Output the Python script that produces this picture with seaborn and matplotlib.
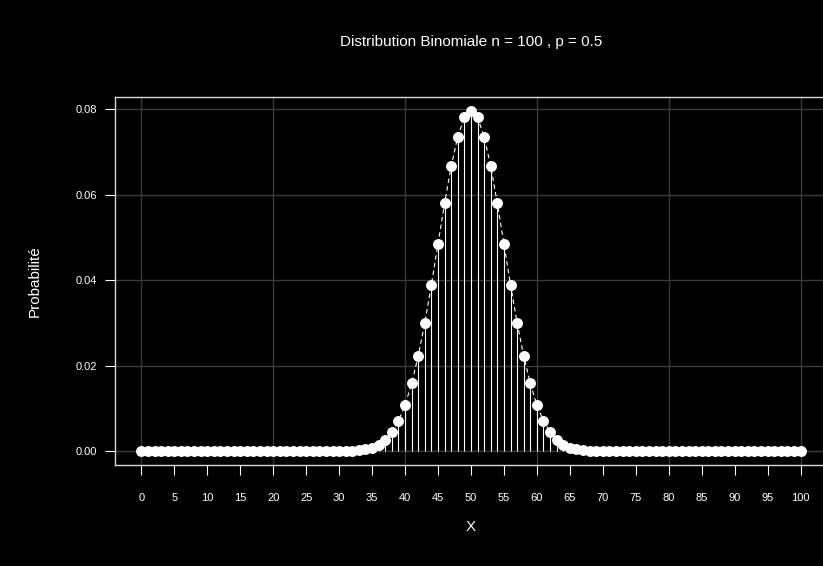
import numpy as np
import pandas as pd
import matplotlib
matplotlib.use("Agg")
import matplotlib.pyplot as plt
import seaborn as sns

# values (binomial n=100, p=0.5)
x_vals = list(range(0, 101))
prob_vals = (
    [0.0] * 27
    + [0.0000015, 0.0000039, 0.0000098, 0.0000232, 0.0000523, 0.0001128,
       0.0002325, 0.0004581, 0.0008638, 0.0015597, 0.0026979, 0.0044729,
       0.0071108, 0.0108439, 0.0158691, 0.0222923, 0.0300686, 0.0389525,
       0.0484743, 0.0579584, 0.0665905, 0.0735271, 0.0780287, 0.0795892,
       0.0780287, 0.0735271, 0.0665905, 0.0579584, 0.0484743, 0.0389525,
       0.0300686, 0.0222923, 0.0158691, 0.0108439, 0.0071108, 0.0044729,
       0.0026979, 0.0015597, 0.0008638, 0.0004581, 0.0002325, 0.0001128,
       0.0000523, 0.0000232, 0.0000098, 0.0000039, 0.0000015]
    + [0.0] * 27
)
x_ticks = list(range(0, 101, 5))
y_ticks = [0.00, 0.02, 0.04, 0.06, 0.08]
grid_x = [0, 20, 40, 60, 80, 100]

df = pd.DataFrame({"X": x_vals, "Probabilite": prob_vals})

sns.set_theme(style="dark")
plt.rcParams["font.family"] = ["Liberation Sans", "DejaVu Sans"]

fig = plt.figure(figsize=(8.23, 5.66), dpi=100, facecolor="black")
ax = fig.add_axes([0.1397, 0.1784, 0.8651, 0.6502])
ax.set_facecolor("black")

# grid
for gx in grid_x:
    ax.axvline(gx, color="#3a3a3a", lw=1.0, zorder=0)
for gy in y_ticks:
    ax.axhline(gy, color="#3a3a3a", lw=1.0, zorder=0)

# stems
ax.vlines(df["X"], 0, df["Probabilite"], color="white", lw=0.8, zorder=2)
sns.lineplot(data=df, x="X", y="Probabilite", ax=ax, color="white",
             lw=0.8, linestyle=(0, (4, 3)), zorder=3)
sns.scatterplot(data=df, x="X", y="Probabilite", ax=ax, color="white",
                s=62, edgecolor="white", linewidth=0, zorder=4)

ax.set_xlim(-4, 104)
ax.set_ylim(-0.00318, 0.08278)
ax.set_xticks(x_ticks)
ax.set_xticklabels([str(t) for t in x_ticks])
ax.set_yticks(y_ticks)
ax.set_yticklabels([f"{t:.2f}" for t in y_ticks])
ax.tick_params(axis="x", colors="white", length=7, width=0.8, pad=13,
               labelsize=8, direction="out", bottom=True)
ax.tick_params(axis="y", colors="white", length=7, width=0.8, pad=6,
               labelsize=8, direction="out", left=True)
for sp in ax.spines.values():
    sp.set_color("#d8d8d8")
    sp.set_linewidth(1.0)
    sp.set_visible(True)
ax.set_xlabel("")
ax.set_ylabel("")

fig.text(0.5723, 0.9258, "Distribution Binomiale n = 100 , p = 0.5",
         color="white", fontsize=11, ha="center", va="center")
fig.text(0.5723, 0.069, "X", color="white", fontsize=11,
         ha="center", va="center")
fig.text(0.0425, 0.5035, "Probabilité", color="white", fontsize=11,
         ha="center", va="center", rotation=90)

fig.savefig("out.png", dpi=100, facecolor="black")
